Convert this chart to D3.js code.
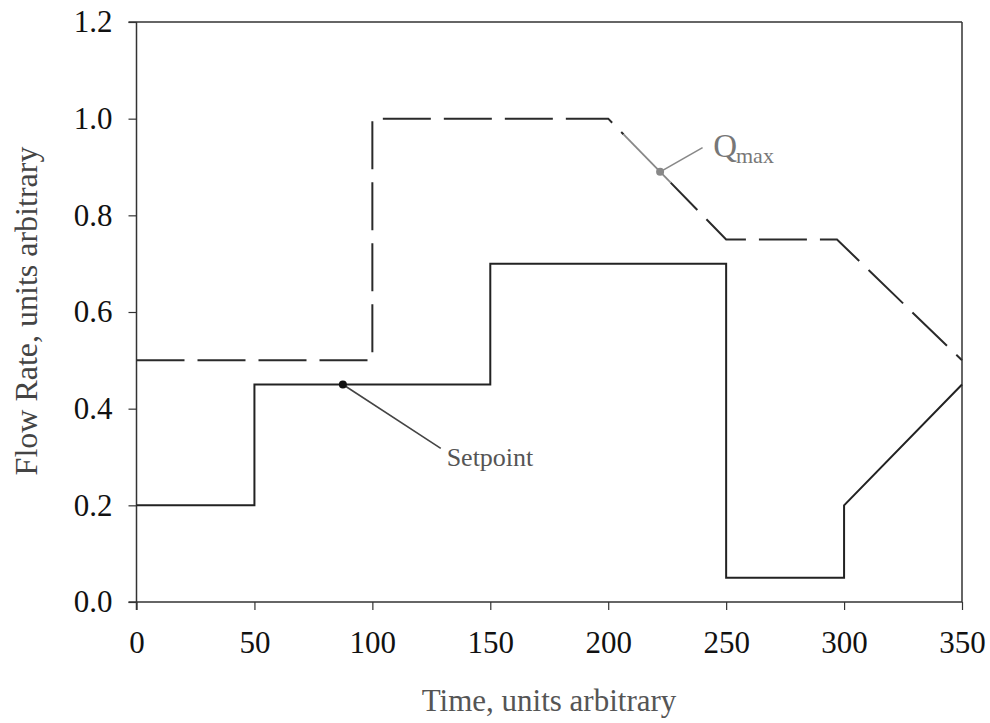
<!DOCTYPE html>
<html>
<head>
<meta charset="utf-8">
<script src="https://cdn.jsdelivr.net/npm/d3@7"></script>
<style>
  body { margin: 0; background: #fff; }
  text { font-family: "Liberation Serif", "DejaVu Serif", serif; }
</style>
</head>
<body>
<div id="chart"></div>
<script>
// actual flow (solid step line)
const flowTime = [0, 50, 50, 150, 150, 250, 250, 300, 300, 350];
const flowValue = [0.2, 0.2, 0.45, 0.45, 0.7, 0.7, 0.05, 0.05, 0.2, 0.45];

// Qmax limit (dashed line)
const qmaxTime = [0, 100, 100, 200, 250, 297, 350];
const qmaxValue = [0.5, 0.5, 1.0, 1.0, 0.75, 0.75, 0.5];

const xTicks = [0, 50, 100, 150, 200, 250, 300, 350];
const yTicks = [0, 0.2, 0.4, 0.6, 0.8, 1.0, 1.2];

// annotations
const setpoint = { t: 87.5, q: 0.45, labelT: 129, labelQ: 0.318, textT: 131.5, textQ: 0.281 };
const qmaxMark = { t: 222, q: 0.89, labelT: 240, labelQ: 0.94, textT: 244.5, textQ: 0.921 };

const width = 990, height = 723;
const margin = { top: 22, right: 28, bottom: 121, left: 136.5 };

const svg = d3.select("#chart")
  .append("svg")
  .attr("width", width)
  .attr("height", height);

// --- SCALES ---
const x = d3.scaleLinear()
  .domain([0, 350])
  .range([margin.left, width - margin.right]);

const y = d3.scaleLinear()
  .domain([0, 1.2])
  .range([height - margin.bottom, margin.top]);

// --- FRAME ---
svg.append("line")
  .attr("x1", x(0) - 8).attr("x2", x(350))
  .attr("y1", y(1.2)).attr("y2", y(1.2))
  .attr("stroke", "#333").attr("stroke-width", 1.5);

svg.append("line")
  .attr("x1", x(350)).attr("x2", x(350))
  .attr("y1", y(1.2)).attr("y2", y(0))
  .attr("stroke", "#333").attr("stroke-width", 1.5);

// --- AXES ---
const xAxis = svg.append("g")
  .attr("transform", `translate(0,${y(0)})`)
  .call(d3.axisBottom(x).tickValues(xTicks).tickSize(8).tickSizeOuter(0).tickPadding(21));

const yAxis = svg.append("g")
  .attr("transform", `translate(${x(0)},0)`)
  .call(d3.axisLeft(y).tickValues(yTicks).tickFormat(d3.format(".1f")).tickSize(8).tickSizeOuter(0).tickPadding(16));

[xAxis, yAxis].forEach(g => {
  g.select(".domain").attr("stroke", "#333").attr("stroke-width", 1.5);
  g.selectAll(".tick line").attr("stroke", "#333").attr("stroke-width", 1.2);
  g.selectAll("text")
    .style("font-size", "31px")
    .style("font-family", "'Liberation Serif', serif")
    .attr("fill", "#111");
});

// axis lines extend slightly past the origin
xAxis.select(".domain").attr("d", `M${x(0) - 8},0H${x(350)}`);
yAxis.select(".domain").attr("d", `M0,${y(1.2)}V${y(0) + 8}`);

// --- LINES ---
const line = d3.line()
  .x(d => x(d[0]))
  .y(d => y(d[1]));

svg.append("path")
  .datum(qmaxTime.map((t, i) => [t, qmaxValue[i]]))
  .attr("d", line)
  .attr("fill", "none")
  .attr("stroke", "#2a2a2a")
  .attr("stroke-width", 2)
  .attr("stroke-dasharray", "48,13");

svg.append("path")
  .datum(flowTime.map((t, i) => [t, flowValue[i]]))
  .attr("d", line)
  .attr("fill", "none")
  .attr("stroke", "#222")
  .attr("stroke-width", 2);

// --- SETPOINT ANNOTATION ---
svg.append("line")
  .attr("x1", x(setpoint.t)).attr("y1", y(setpoint.q))
  .attr("x2", x(setpoint.labelT)).attr("y2", y(setpoint.labelQ))
  .attr("stroke", "#444").attr("stroke-width", 1.6);

svg.append("circle")
  .attr("cx", x(setpoint.t)).attr("cy", y(setpoint.q))
  .attr("r", 4)
  .attr("fill", "#111");

svg.append("text")
  .attr("x", x(setpoint.textT))
  .attr("y", y(setpoint.textQ))
  .style("font-size", "26px")
  .attr("fill", "#555")
  .text("Setpoint");

// --- QMAX ANNOTATION ---
// gray part of the dashed diagonal near the marker
svg.append("line")
  .attr("x1", x(206.5)).attr("y1", y(1 - 6.5 * 0.005))
  .attr("x2", x(226.5)).attr("y2", y(1 - 26.5 * 0.005))
  .attr("stroke", "#fff").attr("stroke-width", 4);
svg.append("line")
  .attr("x1", x(206.5)).attr("y1", y(1 - 6.5 * 0.005))
  .attr("x2", x(226.5)).attr("y2", y(1 - 26.5 * 0.005))
  .attr("stroke", "#888").attr("stroke-width", 1.8);

svg.append("line")
  .attr("x1", x(qmaxMark.t)).attr("y1", y(qmaxMark.q))
  .attr("x2", x(qmaxMark.labelT)).attr("y2", y(qmaxMark.labelQ))
  .attr("stroke", "#888").attr("stroke-width", 1.6);

svg.append("circle")
  .attr("cx", x(qmaxMark.t)).attr("cy", y(qmaxMark.q))
  .attr("r", 4)
  .attr("fill", "#888");

const qText = svg.append("text")
  .attr("x", x(qmaxMark.textT))
  .attr("y", y(qmaxMark.textQ))
  .style("font-size", "33px")
  .attr("fill", "#777");
qText.append("tspan").text("Q");
qText.append("tspan")
  .attr("dy", 6)
  .attr("dx", -1)
  .style("font-size", "22px")
  .text("max");

// --- AXIS TITLES ---
svg.append("text")
  .attr("x", 549)
  .attr("y", 711)
  .attr("text-anchor", "middle")
  .style("font-size", "31px")
  .attr("fill", "#555")
  .text("Time, units arbitrary");

svg.append("text")
  .attr("transform", "rotate(-90)")
  .attr("x", -311)
  .attr("y", 37)
  .attr("text-anchor", "middle")
  .style("font-size", "32px")
  .attr("fill", "#444")
  .text("Flow Rate, units arbitrary");
</script>
</body>
</html>
